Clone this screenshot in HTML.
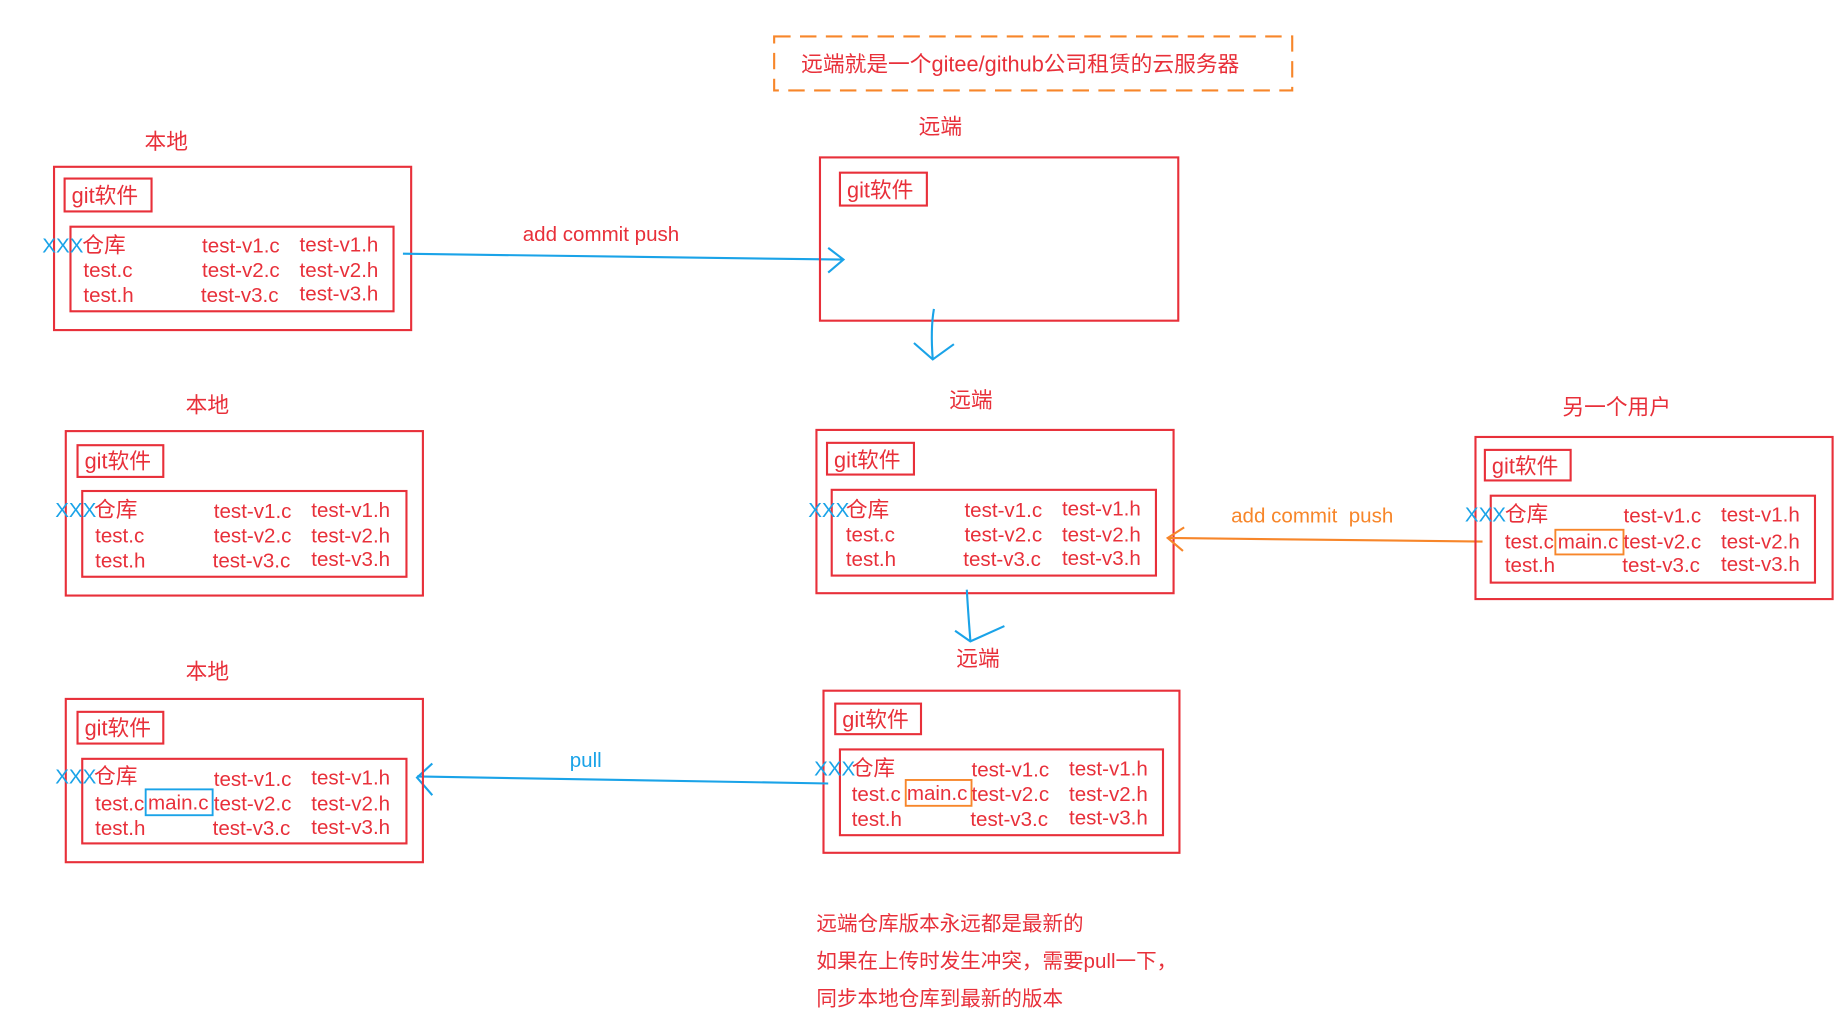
<!DOCTYPE html>
<html><head><meta charset="utf-8"><style>
html,body{margin:0;padding:0;background:#fff;}
svg{display:block;}
text{font-family:"Liberation Sans","Noto Sans CJK SC",sans-serif;}
.r{fill:#e8303a;font-size:17.5px;}
.c{fill:#e8303a;font-size:18.5px;}
.b{fill:#1aa3e8;font-size:17.5px;}
.o{fill:#f7862a;font-size:17.5px;}
.box{fill:none;stroke:#e8303a;stroke-width:1.8;}
</style></head><body>
<svg width="1842" height="1029" viewBox="0 0 1568 876" preserveAspectRatio="none" xmlns="http://www.w3.org/2000/svg">
<rect x="0" y="0" width="1568" height="876" fill="#fff"/>
<rect x="659" y="31" width="441" height="46" fill="none" stroke="#f7862a" stroke-width="1.8" stroke-dasharray="14,8"/>
<text x="682" y="61" class="c">远端就是一个gitee/github公司租赁的云服务器</text>

<text x="123" y="127" class="c">本地</text>
<rect x="46" y="142" width="304" height="139" class="box"/>
<rect x="55" y="152" width="74" height="28" class="box"/>
<text x="61" y="173" class="c">git软件</text>
<rect x="60" y="193" width="275" height="72" class="box"/>
<text x="36" y="215" class="b">XXX</text>
<text x="70" y="215" class="c">仓库</text>
<text x="71" y="236" class="r">test.c</text>
<text x="71" y="257" class="r">test.h</text>
<text x="172" y="215" class="r">test-v1.c</text><text x="255" y="214" class="r">test-v1.h</text>
<text x="172" y="236" class="r">test-v2.c</text><text x="255" y="236" class="r">test-v2.h</text>
<text x="171" y="257" class="r">test-v3.c</text><text x="255" y="256" class="r">test-v3.h</text>

<path d="M343,216 L718,221 M705,211 L718,221 L705,232" fill="none" stroke="#1aa3e8" stroke-width="1.8"/>
<text x="445" y="205" class="r">add commit push</text>

<text x="782" y="114" class="c">远端</text>
<rect x="698" y="134" width="305" height="139" class="box"/>
<rect x="715" y="147" width="74" height="28" class="box"/>
<text x="721" y="168" class="c">git软件</text>

<path d="M795,263 Q792,280 794,306 M778,292 L794,306 L812,293" fill="none" stroke="#1aa3e8" stroke-width="1.8"/>

<text x="158" y="351" class="c">本地</text>
<rect x="56" y="367" width="304" height="140" class="box"/>
<rect x="66" y="379" width="73" height="27" class="box"/>
<text x="72" y="399" class="c">git软件</text>
<rect x="70" y="418" width="276" height="73" class="box"/>
<text x="47" y="440" class="b">XXX</text>
<text x="80" y="440" class="c">仓库</text>
<text x="81" y="462" class="r">test.c</text>
<text x="81" y="483" class="r">test.h</text>
<text x="182" y="441" class="r">test-v1.c</text><text x="265" y="440" class="r">test-v1.h</text>
<text x="182" y="462" class="r">test-v2.c</text><text x="265" y="462" class="r">test-v2.h</text>
<text x="181" y="483" class="r">test-v3.c</text><text x="265" y="482" class="r">test-v3.h</text>

<text x="808" y="347" class="c">远端</text>
<rect x="695" y="366" width="304" height="139" class="box"/>
<rect x="704" y="377" width="74" height="27" class="box"/>
<text x="710" y="398" class="c">git软件</text>
<rect x="708" y="417" width="276" height="73" class="box"/>
<text x="688" y="440" class="b">XXX</text>
<text x="720" y="440" class="c">仓库</text>
<text x="720" y="461" class="r">test.c</text>
<text x="720" y="482" class="r">test.h</text>
<text x="821" y="440" class="r">test-v1.c</text><text x="904" y="439" class="r">test-v1.h</text>
<text x="821" y="461" class="r">test-v2.c</text><text x="904" y="461" class="r">test-v2.h</text>
<text x="820" y="482" class="r">test-v3.c</text><text x="904" y="481" class="r">test-v3.h</text>

<path d="M1262,461 L994,458 M1008,449 L994,458 L1007,469" fill="none" stroke="#f7862a" stroke-width="1.8"/>
<text x="1048" y="445" class="o">add commit&#160;&#160;push</text>

<text x="1330" y="353" class="c">另一个用户</text>
<rect x="1256" y="372" width="304" height="138" class="box"/>
<rect x="1264" y="383" width="73" height="26" class="box"/>
<text x="1270" y="403" class="c">git软件</text>
<rect x="1269" y="422" width="276" height="74" class="box"/>
<text x="1247" y="444" class="b">XXX</text>
<text x="1281" y="444" class="c">仓库</text>
<text x="1281" y="467" class="r">test.c</text>
<rect x="1324" y="451" width="58" height="21" fill="none" stroke="#f7862a" stroke-width="1.6"/>
<text x="1326" y="467" class="r">main.c</text>
<text x="1281" y="487" class="r">test.h</text>
<text x="1382" y="445" class="r">test-v1.c</text><text x="1465" y="444" class="r">test-v1.h</text>
<text x="1382" y="467" class="r">test-v2.c</text><text x="1465" y="467" class="r">test-v2.h</text>
<text x="1381" y="487" class="r">test-v3.c</text><text x="1465" y="486" class="r">test-v3.h</text>

<path d="M823,502 Q824,520 826,545 M813,537 L826,546 L855,533" fill="none" stroke="#1aa3e8" stroke-width="1.8"/>

<text x="814" y="567" class="c">远端</text>
<rect x="701" y="588" width="303" height="138" class="box"/>
<rect x="711" y="599" width="73" height="26" class="box"/>
<text x="717" y="619" class="c">git软件</text>
<rect x="715" y="638" width="275" height="73" class="box"/>
<text x="693" y="660" class="b">XXX</text>
<text x="725" y="660" class="c">仓库</text>
<text x="725" y="682" class="r">test.c</text>
<rect x="771" y="664" width="56" height="22" fill="none" stroke="#f7862a" stroke-width="1.6"/>
<text x="772" y="681" class="r">main.c</text>
<text x="725" y="703" class="r">test.h</text>
<text x="827" y="661" class="r">test-v1.c</text><text x="910" y="660" class="r">test-v1.h</text>
<text x="827" y="682" class="r">test-v2.c</text><text x="910" y="682" class="r">test-v2.h</text>
<text x="826" y="703" class="r">test-v3.c</text><text x="910" y="702" class="r">test-v3.h</text>

<path d="M705,667 L355,661 M368,650 L355,662 L368,677" fill="none" stroke="#1aa3e8" stroke-width="1.8"/>
<text x="485" y="653" class="b">pull</text>

<text x="158" y="578" class="c">本地</text>
<rect x="56" y="595" width="304" height="139" class="box"/>
<rect x="66" y="606" width="73" height="27" class="box"/>
<text x="72" y="626" class="c">git软件</text>
<rect x="70" y="646" width="276" height="72" class="box"/>
<text x="47" y="667" class="b">XXX</text>
<text x="80" y="667" class="c">仓库</text>
<text x="81" y="690" class="r">test.c</text>
<rect x="124" y="672" width="57" height="22" fill="none" stroke="#1aa3e8" stroke-width="1.6"/>
<text x="126" y="689" class="r">main.c</text>
<text x="81" y="711" class="r">test.h</text>
<text x="182" y="669" class="r">test-v1.c</text><text x="265" y="668" class="r">test-v1.h</text>
<text x="182" y="690" class="r">test-v2.c</text><text x="265" y="690" class="r">test-v2.h</text>
<text x="181" y="711" class="r">test-v3.c</text><text x="265" y="710" class="r">test-v3.h</text>

<text x="695" y="792" class="r">远端仓库版本永远都是最新的</text>
<text x="695" y="824" class="r">如果在上传时发生冲突，需要pull一下，</text>
<text x="695" y="856" class="r">同步本地仓库到最新的版本</text>
</svg>
</body></html>
